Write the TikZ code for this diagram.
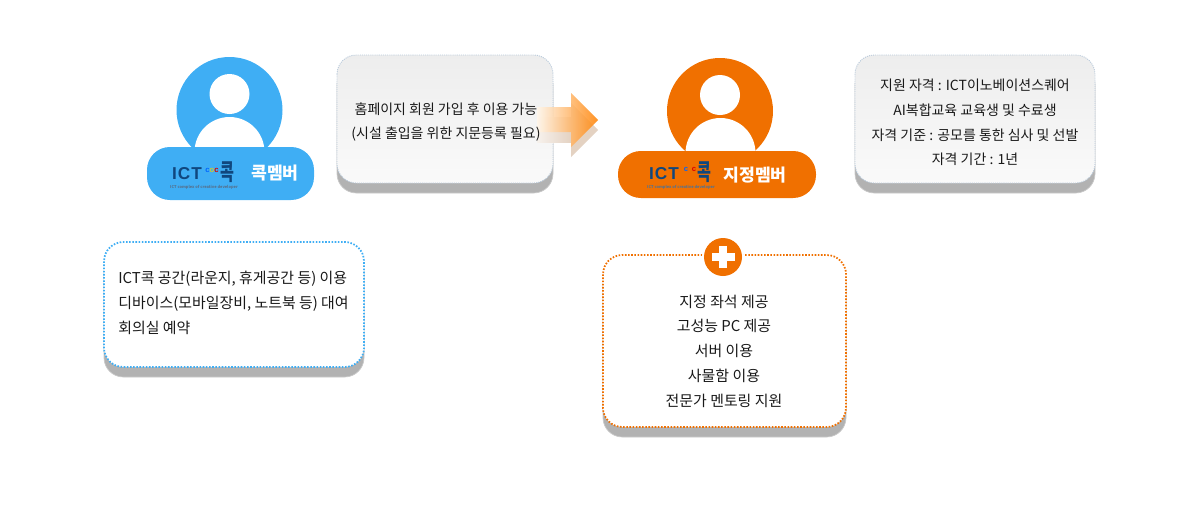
\documentclass[tikz,border=0pt]{standalone}
\usepackage{graphicx}
\usepackage{fontspec}
\setmainfont{Noto Sans CJK KR}
\newfontfamily\logofont[LetterSpace=6]{Liberation Sans}
\usepackage{tikz}
\definecolor{kokblue}{HTML}{3FAEF4}
\definecolor{kokorange}{HTML}{F07000}
\definecolor{logonavy}{HTML}{10477E}
\definecolor{shadowgray}{HTML}{B2B2B2}
\definecolor{dotgray}{HTML}{B9CADB}
\definecolor{arrowpale}{HTML}{FFF6EA}
\definecolor{arrowmid}{HTML}{FFD596}
\definecolor{arrowtip}{HTML}{FF8406}
\definecolor{arrowshadow}{HTML}{E4D2C2}
\tikzset{
	boxshadow/.style={fill=shadowgray, draw=shadowgray!70, rounded corners=11pt},
	graybox/.style={top color=black!7, bottom color=black!2, draw=dotgray, line width=0.5pt, dash pattern=on 0.6pt off 0.6pt, rounded corners=11pt},
	bluebox/.style={fill=white, draw=kokblue, line width=1pt, dash pattern=on 0.9pt off 0.9pt, rounded corners=11pt},
	orangebox/.style={fill=white, draw=kokorange, line width=1pt, dash pattern=on 0.9pt off 0.9pt, rounded corners=11pt},
	boxtext/.style={font=\fontsize{7.95}{14.1}\selectfont, text=black!90, align=center, inner sep=0pt},
	bigtext/.style={font=\fontsize{8.5}{14.1}\selectfont, text=black!90, align=center, inner sep=0pt},
	pilltext/.style={font=\fontsize{9.8}{11}\selectfont\bfseries, text=white, inner sep=0pt},
	logotext/.style={font=\fontsize{9.8}{10}\logofont\bfseries, text=logonavy, inner sep=0pt},
	koktext/.style={font=\fontsize{8.6}{10}\selectfont\bfseries, text=logonavy, inner sep=0pt},
	coctext/.style={font=\fontsize{4.4}{5}\logofont\bfseries, inner sep=0pt},
	tagtext/.style={font=\fontsize{2.25}{3}\selectfont\bfseries, text=logonavy!75!black!70, inner sep=0pt}
}
\begin{document}
\begin{tikzpicture}[x=0.02cm, y=-0.02cm]
\useasboundingbox (0, 0) rectangle (1198, 521);

\fill [kokblue] (229.5, 110) circle (53);
\fill [white] (229.5, 94) circle (20);
\fill [white] (229.5, 152) circle (35);
\fill [kokblue, rounded corners=13pt] (147, 147) rectangle (314, 200);
\node (bluelogo) [logotext] at (187, 173.5) {ICT};
\node (bluecoc) [coctext] at (212, 170) {\textcolor{blue!60!cyan}{c}\textcolor{yellow!80!black}{o}\textcolor{red!85!black}{c}};
\node (bluekok) [koktext] at (227, 172.5) {\scalebox{1}[1.5]{콕}};
\node (bluetag) [tagtext] at (204, 187) {ICT complex of creative developer};
\node (bluename) [pilltext] at (275, 173) {콕멤버};

\fill [kokorange] (720, 111) circle (53);
\fill [white] (720, 95) circle (20);
\fill [white] (720.5, 153) circle (35);
\fill [kokorange, rounded corners=13pt] (618, 151) rectangle (816, 198);
\node (orangelogo) [logotext] at (664, 173.5) {ICT};
\node (orangecoc1) [coctext, text=blue!60!cyan] at (686, 169.5) {c};
\node (orangecoc2) [coctext, text=red!85!black] at (694, 169.5) {c};
\node (orangekok) [koktext] at (704, 172.5) {\scalebox{1}[1.5]{콕}};
\node (orangetag) [tagtext] at (681, 187) {ICT complex of creative developer};
\node (orangename) [pilltext] at (755, 175) {지정멤버};

\foreach \xa/\ya/\xb/\yb in {
	337/65/553/193,
	855/65/1095/193,
	104/252/364/377,
	603/265/846/437
	} {
	\draw [boxshadow] (\xa, \ya) rectangle (\xb, \yb);
}

\draw [graybox] (337, 55) rectangle (553, 183);

\shade [left color=arrowshadow!30, right color=arrowshadow] (537, 142) -- (571, 142) -- (571, 117) -- (537, 117) -- cycle;
\fill [arrowshadow] (571, 103) -- (598, 130) -- (571, 157) -- cycle;
\shade [left color=arrowpale, middle color=arrowmid, right color=arrowtip, opacity=0.88] (537, 107) -- (571, 107) -- (571, 93) -- (598, 120) -- (571, 147) -- (571, 132) -- (537, 132) -- cycle;
\node (hometext) [boxtext] at (446, 122) {홈페이지 회원 가입 후 이용 가능\\(시설 출입을 위한 지문등록 필요)};

\draw [graybox] (855, 55) rectangle (1095, 183);
\node (gradetext) [boxtext] at (975, 122.5) {지원 자격 : ICT이노베이션스퀘어\\AI복합교육 교육생 및 수료생\\자격 기준 : 공모를 통한 심사 및 선발\\자격 기간 : 1년};

\draw [bluebox] (104, 242) rectangle (364, 367);
\node (kokbenefit) [bigtext, anchor=north west, align=left] at (118, 271) {ICT콕 공간(라운지, 휴게공간 등) 이용\\디바이스(모바일장비, 노트북 등) 대여\\회의실 예약};

\draw [orangebox] (603, 255) rectangle (846, 427);
\fill [white] (723, 257) circle (21);
\fill [kokorange] (723, 257) circle (19);
\fill [white] (712, 253) rectangle (735, 261);
\fill [white] (719, 246) rectangle (727, 268);
\node (orangebenefit) [bigtext] at (724, 351) {지정 좌석 제공\\고성능 PC 제공\\서버 이용\\사물함 이용\\전문가 멘토링 지원};
\end{tikzpicture}
\end{document}
